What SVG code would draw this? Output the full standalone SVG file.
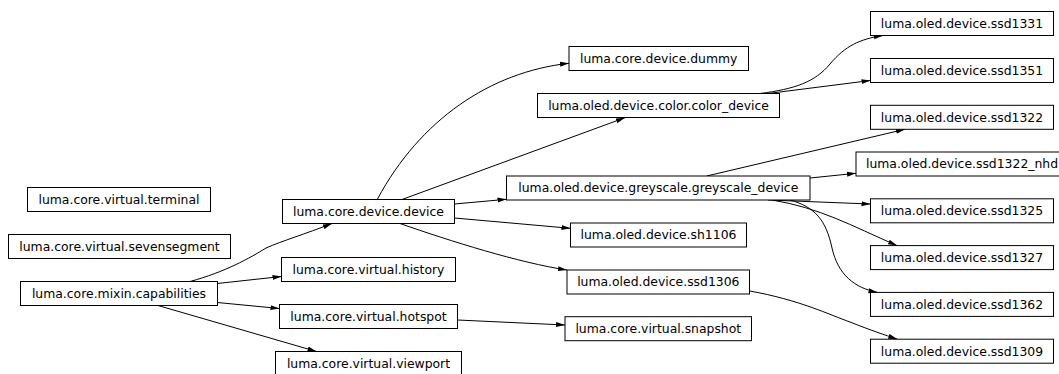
<svg xmlns="http://www.w3.org/2000/svg" width="1059" height="374" viewBox="0 0 1059 374">
<style>
.n rect{fill:#fff;stroke:#000;stroke-width:1}
.n text{font-family:"DejaVu Sans",sans-serif;font-size:12.4px;fill:#000;text-anchor:middle}
.e path{fill:none;stroke:#000;stroke-width:1;marker-end:url(#a)}
</style>
<defs>
<marker id="a" viewBox="0 0 9 6" refX="9" refY="3" markerWidth="9" markerHeight="6" orient="auto" markerUnits="userSpaceOnUse"><path d="M0,0.5 L9,3 L0,5.5 z" fill="#000"/></marker>
</defs>
<rect width="1059" height="374" fill="#fff"/>
<g class="e" id="connectors">
<path d="M190,281.5 C225,272 250,258 266,248 C282,241 305,234 332,223.5"/>
<path d="M217.3,283.5 L281.5,276.5"/>
<path d="M217.3,302.5 L279.5,308.5"/>
<path d="M158,305.5 L316.5,351.5"/>
<path d="M377.5,199 C420,120 490,72 569,63.3"/>
<path d="M402,199.5 L625,117.7"/>
<path d="M454.5,204 L506.5,199.3"/>
<path d="M454.5,218 L570.5,228.3"/>
<path d="M400,223.5 C450,241 520,263 567,270"/>
<path d="M457.5,320 L565,325"/>
<path d="M760,93.5 C795,89 815,82 830,64 C845,46 860,39 883,35.5"/>
<path d="M768,93.5 L870.5,80.5"/>
<path d="M706.7,176 L905,129.3"/>
<path d="M810,178 L856,173.3"/>
<path d="M768,200 L870.5,204"/>
<path d="M772,200 C820,208 850,225 897,245.6"/>
<path d="M790,200 C815,207 826,220 832,248 C838,275 855,288 877.5,292.4"/>
<path d="M749.7,291 C800,300 830,315 850,322 C870,330 885,335 897.3,339.2"/>
</g>
<g class="n" id="terminal"><rect x="27.5" y="187.5" width="183" height="24"/><text x="119" y="203.8">luma.core.virtual.terminal</text></g>
<g class="n" id="sevensegment"><rect x="8.5" y="234.5" width="222" height="24"/><text x="119.5" y="250.8">luma.core.virtual.sevensegment</text></g>
<g class="n" id="capabilities"><rect x="20.5" y="281.5" width="197" height="24"/><text x="119" y="297.8">luma.core.mixin.capabilities</text></g>
<g class="n" id="device"><rect x="282.5" y="199.5" width="172" height="24"/><text x="368.5" y="215.8">luma.core.device.device</text></g>
<g class="n" id="history"><rect x="281.5" y="257.5" width="174" height="24"/><text x="368.5" y="273.8">luma.core.virtual.history</text></g>
<g class="n" id="hotspot"><rect x="279.5" y="304.5" width="178" height="24"/><text x="368.5" y="320.8">luma.core.virtual.hotspot</text></g>
<g class="n" id="viewport"><rect x="275.5" y="351.5" width="186" height="24"/><text x="368.5" y="367.8">luma.core.virtual.viewport</text></g>
<g class="n" id="dummy"><rect x="569" y="46.5" width="179.5" height="24"/><text x="658.7" y="62.8">luma.core.device.dummy</text></g>
<g class="n" id="color_device"><rect x="537.5" y="93.5" width="242" height="24"/><text x="658.5" y="109.8">luma.oled.device.color.color_device</text></g>
<g class="n" id="greyscale_device"><rect x="506.5" y="176" width="303.5" height="24"/><text x="658.3" y="192.3">luma.oled.device.greyscale.greyscale_device</text></g>
<g class="n" id="sh1106"><rect x="570.5" y="223" width="176" height="24"/><text x="658.5" y="239.3">luma.oled.device.sh1106</text></g>
<g class="n" id="ssd1306"><rect x="567" y="270" width="182.5" height="24"/><text x="658.3" y="286.3">luma.oled.device.ssd1306</text></g>
<g class="n" id="snapshot"><rect x="565" y="316.7" width="186.5" height="24"/><text x="658.3" y="333">luma.core.virtual.snapshot</text></g>
<g class="n" id="ssd1331"><rect x="870.5" y="11.5" width="183" height="24"/><text x="962" y="27.8">luma.oled.device.ssd1331</text></g>
<g class="n" id="ssd1351"><rect x="870.5" y="58.5" width="183" height="24"/><text x="962" y="74.8">luma.oled.device.ssd1351</text></g>
<g class="n" id="ssd1322"><rect x="870.5" y="105.3" width="183" height="24"/><text x="962" y="121.6">luma.oled.device.ssd1322</text></g>
<g class="n" id="ssd1322_nhd"><rect x="856" y="152" width="212" height="24"/><text x="962" y="168.3">luma.oled.device.ssd1322_nhd</text></g>
<g class="n" id="ssd1325"><rect x="870.5" y="198.8" width="183" height="24"/><text x="962" y="215.1">luma.oled.device.ssd1325</text></g>
<g class="n" id="ssd1327"><rect x="870.5" y="245.6" width="183" height="24"/><text x="962" y="261.9">luma.oled.device.ssd1327</text></g>
<g class="n" id="ssd1362"><rect x="870.5" y="292.4" width="183" height="24"/><text x="962" y="308.7">luma.oled.device.ssd1362</text></g>
<g class="n" id="ssd1309"><rect x="870.5" y="339.2" width="183" height="24"/><text x="962" y="355.5">luma.oled.device.ssd1309</text></g>
</svg>
